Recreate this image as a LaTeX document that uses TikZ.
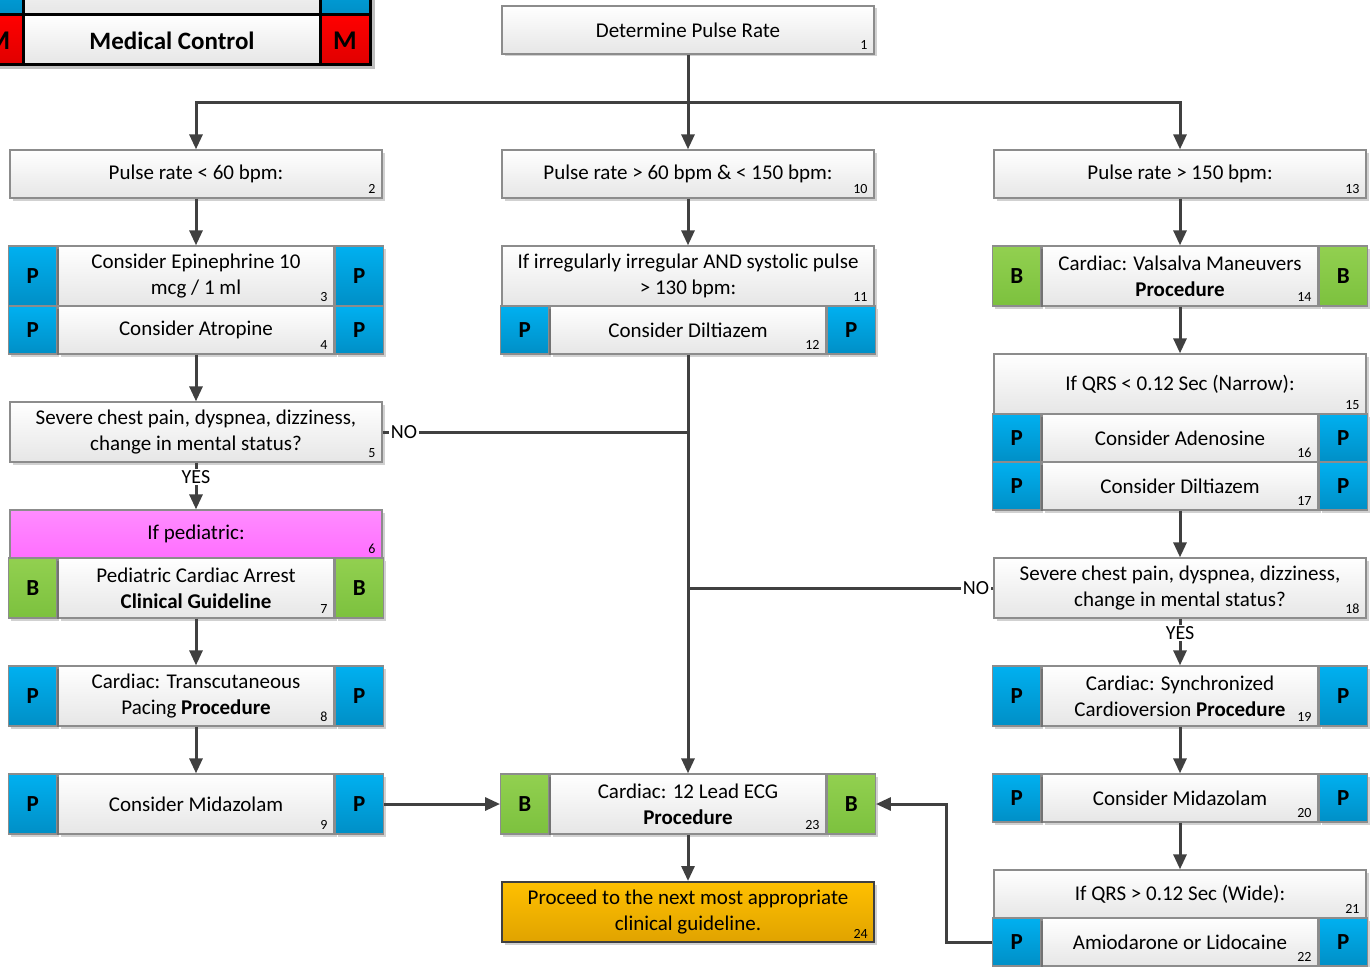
\documentclass[tikz,border=0pt]{standalone}
\usepackage{fontspec}
\setmainfont{Carlito}
\usetikzlibrary{arrows.meta,shadows}

\definecolor{edge}{HTML}{8C8C8C}
\definecolor{wire}{HTML}{404040}
\definecolor{boxbot}{HTML}{E6E6E6}
\definecolor{pblue}{HTML}{00B0F0}
\definecolor{pbluedark}{HTML}{008FC6}
\definecolor{bgreen}{HTML}{92D050}
\definecolor{bgreendark}{HTML}{7CC13E}
\definecolor{pinktop}{HTML}{FF8CFF}
\definecolor{pinkbot}{HTML}{FF6EFF}
\definecolor{ambertop}{HTML}{FFC000}
\definecolor{amberbot}{HTML}{E0A300}
\definecolor{mred}{HTML}{FF0000}
\definecolor{mreddark}{HTML}{E00000}

\tikzset{
  every node/.style={font=\fontsize{21}{26}\selectfont, text=black},
  cell/.style={draw=edge, line width=1.3pt, top color=white, bottom color=boxbot,
    minimum height=48pt, inner sep=0pt, align=center,
    drop shadow={shadow xshift=2.5pt, shadow yshift=-2.5pt, fill=black, opacity=0.18}},
  badge/.style={cell, minimum width=48pt, font=\fontsize{23}{26}\selectfont\bfseries},
  pbadge/.style={badge, top color=pblue, bottom color=pbluedark},
  bbadge/.style={badge, top color=bgreen, bottom color=bgreendark},
  pinkcell/.style={top color=pinktop, bottom color=pinkbot},
  ambercell/.style={top color=ambertop, bottom color=amberbot, draw=wire, line width=2pt},
  num/.style={font=\fontsize{14}{16}\selectfont, anchor=south east, inner sep=0pt,
    xshift=-7pt, yshift=4.5pt},
  wireline/.style={draw=wire, line width=3pt},
  arr/.style={wireline, -{Triangle[length=15pt,width=13pt]}},
  lbl/.style={fill=white, inner sep=1.5pt, font=\fontsize{20}{24}\selectfont}
}

% box spanning a whole column: name, x, y, height, extra style, text, number
\newcommand\wholebox[7]{%
  \node[cell, minimum width=372pt, minimum height=#4pt, #5] (#1) at (#2,#3) {#6};
  \node[num] (#1n) at (#1.south east) {#7};
}
% box with a level badge on each side: name, x, y, height, badge style, letter, text, number
\newcommand\badgedbox[8]{%
  \node[cell, minimum width=276pt, minimum height=#4pt] (#1) at (#2,#3) {#7};
  \node[#5, minimum height=#4pt, anchor=east] (#1l) at (#1.west) {#6};
  \node[#5, minimum height=#4pt, anchor=west] (#1r) at (#1.east) {#6};
  \node[num] (#1n) at (#1.south east) {#8};
}

\begin{document}
\begin{tikzpicture}[x=1pt,y=-1pt]
\useasboundingbox (0,0) rectangle (1372,966);
\clip (0,0) rectangle (1372,966);

% ---- level legend (Medical Control row) ----
\fill[black, opacity=0.25] (-30,-40) rectangle (374.5,69);
\fill[top color=pblue, bottom color=pbluedark] (-30,-40) rectangle (23.5,14.5);
\fill[top color=white, bottom color=boxbot] (23.5,-40) rectangle (320.5,14.5);
\fill[top color=pblue, bottom color=pbluedark] (320.5,-40) rectangle (370,14.5);
\fill[top color=mred, bottom color=mreddark] (-30,14.5) rectangle (23.5,64.5);
\fill[top color=white, bottom color=boxbot] (23.5,14.5) rectangle (320.5,64.5);
\fill[top color=mred, bottom color=mreddark] (320.5,14.5) rectangle (370,64.5);
\draw[line width=3pt] (-30,-40) rectangle (370,64.5);
\draw[line width=3pt] (23.5,-40) -- (23.5,64.5) (320.5,-40) -- (320.5,64.5) (-30,14.5) -- (370,14.5);
\node[font=\fontsize{25}{28}\selectfont\bfseries] (legendtext) at (172,41) {Medical Control};
\node[font=\fontsize{27}{28}\selectfont\bfseries] (legendml) at (-1.5,41) {M};
\node[font=\fontsize{27}{28}\selectfont\bfseries] (legendmr) at (345,41) {M};

% ---- top ----
\wholebox{b1}{688}{30}{48}{}{Determine Pulse Rate}{1}

% ---- left column: slow rate ----
\wholebox{b2}{196}{174}{48}{}{Pulse rate < 60 bpm:}{2}
\badgedbox{b3}{196}{276}{60}{pbadge}{P}{Consider Epinephrine 10\\mcg / 1 ml}{3}
\badgedbox{b4}{196}{330}{48}{pbadge}{P}{Consider Atropine}{4}
\wholebox{b5}{196}{432}{60}{}{Severe chest pain, dyspnea, dizziness,\\change in mental status?}{5}
\wholebox{b6}{196}{534}{48}{pinkcell}{If pediatric:}{6}
\badgedbox{b7}{196}{588}{60}{bbadge}{B}{Pediatric Cardiac Arrest\\\textbf{Clinical Guideline}}{7}
\badgedbox{b8}{196}{696}{60}{pbadge}{P}{Cardiac: Transcutaneous\\Pacing \textbf{Procedure}}{8}
\badgedbox{b9}{196}{804}{60}{pbadge}{P}{Consider Midazolam}{9}

% ---- middle column ----
\wholebox{b10}{688}{174}{48}{}{Pulse rate > 60 bpm \& < 150 bpm:}{10}
\wholebox{b11}{688}{276}{60}{}{If irregularly irregular AND systolic pulse\\> 130 bpm:}{11}
\badgedbox{b12}{688}{330}{48}{pbadge}{P}{Consider Diltiazem}{12}
\badgedbox{b23}{688}{804}{60}{bbadge}{B}{Cardiac: 12 Lead ECG\\\textbf{Procedure}}{23}
\wholebox{b24}{688}{912}{60}{ambercell}{Proceed to the next most appropriate\\clinical guideline.}{24}

% ---- right column: fast rate ----
\wholebox{b13}{1180}{174}{48}{}{Pulse rate > 150 bpm:}{13}
\badgedbox{b14}{1180}{276}{60}{bbadge}{B}{Cardiac: Valsalva Maneuvers\\\textbf{Procedure}}{14}
\wholebox{b15}{1180}{384}{60}{}{If QRS < 0.12 Sec (Narrow):}{15}
\badgedbox{b16}{1180}{438}{48}{pbadge}{P}{Consider Adenosine}{16}
\badgedbox{b17}{1180}{486}{48}{pbadge}{P}{Consider Diltiazem}{17}
\wholebox{b18}{1180}{588}{60}{}{Severe chest pain, dyspnea, dizziness,\\change in mental status?}{18}
\badgedbox{b19}{1180}{696}{60}{pbadge}{P}{Cardiac: Synchronized\\Cardioversion \textbf{Procedure}}{19}
\badgedbox{b20}{1180}{798}{48}{pbadge}{P}{Consider Midazolam}{20}
\wholebox{b21}{1180}{894}{48}{}{If QRS > 0.12 Sec (Wide):}{21}
\badgedbox{b22}{1180}{942}{48}{pbadge}{P}{Amiodarone or Lidocaine}{22}

% ---- connectors ----
\coordinate (split) at (688,102);
\draw[arr] (b1.south) -- (b10.north);
\draw[arr] (split) -| (b2.north);
\draw[arr] (split) -| (b13.north);

\draw[arr] (b2.south) -- (b3.north);
\draw[arr] (b4.south) -- (b5.north);
\draw[arr] (b5.south) -- (b6.north);
\node[lbl] (yesl) at (196,477) {YES};
\draw[arr] (b7.south) -- (b8.north);
\draw[arr] (b8.south) -- (b9.north);
\draw[arr] (b9r.east) -- (b23l.west);

\draw[arr] (b10.south) -- (b11.north);
\draw[arr] (b12.south) -- (b23.north);
\draw[arr] (b23.south) -- (b24.north);

\coordinate (joinl) at (688,432);
\coordinate (joinr) at (688,588);
\draw[wireline] (b5.east) -- (joinl);
\node[lbl] (nol) at (404,432) {NO};
\draw[wireline] (b18.west) -- (joinr);
\node[lbl] (nor) at (976,588) {NO};

\draw[arr] (b13.south) -- (b14.north);
\draw[arr] (b14.south) -- (b15.north);
\draw[arr] (b17.south) -- (b18.north);
\draw[arr] (b18.south) -- (b19.north);
\node[lbl] (yesr) at (1180,633) {YES};
\draw[arr] (b19.south) -- (b20.north);
\draw[arr] (b20.south) -- (b21.north);

\coordinate (bend) at (946,942);
\draw[arr] (b22l.west) -- (bend) |- (b23r.east);
\end{tikzpicture}
\end{document}
